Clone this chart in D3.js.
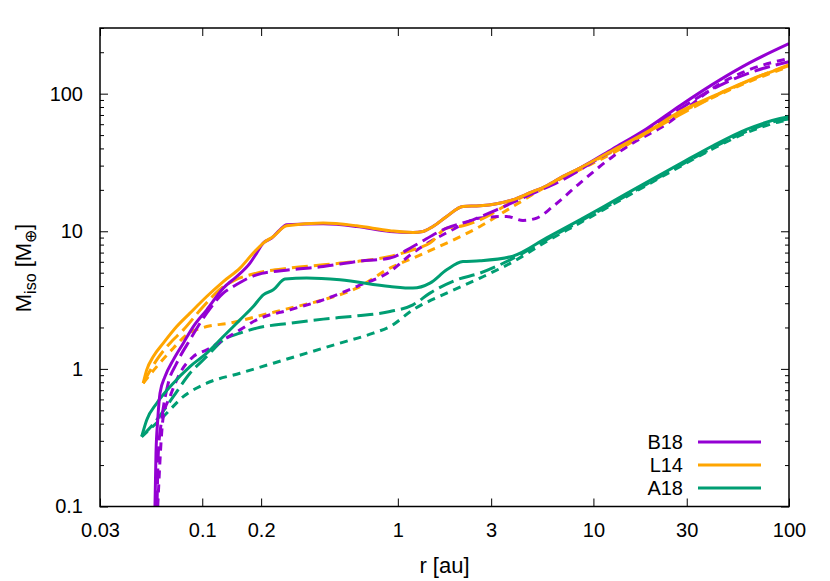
<!DOCTYPE html>
<html><head><meta charset="utf-8">
<script src="https://cdn.jsdelivr.net/npm/d3@7"></script>
<style>
body{margin:0;background:#fff}
svg{display:block}
text{font-family:"Liberation Sans",Arial,Helvetica,sans-serif;fill:#000}
</style>
</head><body>
<svg id="chart" width="830" height="581"></svg>
<script>
// ---- tick values ----
const xTickValues = [0.03, 0.1, 0.2, 1, 3, 10, 30, 100];
const xTickLabels = ["0.03", "0.1", "0.2", "1", "3", "10", "30", "100"];
const yTickValues = [0.1, 1, 10, 100];
const yTickLabels = ["0.1", "1", "10", "100"];

// ---- legend ----
const models = ["B18", "L14", "A18"];
const modelColors = ["#9400d3", "#ffa500", "#009e73"];

// ---- B18 ----
const b18SolidR = [0.0573,0.0580,0.0592,0.0608,0.0645,0.0711,0.0800,0.0900,0.1054,0.1281,0.1500,0.1754,0.1897,0.2051,0.2264,0.2496,0.2701,0.4156,0.6160,0.9113,1.195,1.344,1.512,1.777,2.152,2.630,3.200,3.878,4.737,5.766,6.986,8.533,12.58,18.71,27.69,44.36,63.12,100];
const b18SolidM = [0.1,0.2437,0.4257,0.666,0.879,1.163,1.538,2.031,2.687,3.863,4.69,5.87,6.944,8.209,8.927,10.25,11.15,11.34,10.84,9.966,9.802,9.966,10.84,12.81,15.15,15.32,15.85,16.95,19.05,21.43,25.03,28.82,39.81,55.66,81.8,126,168,231];
const b18DashR = [0.0587,0.0596,0.0620,0.0670,0.0740,0.0865,0.1054,0.1281,0.1441,0.1897,0.2808,0.4156,0.6160,0.9113,1.195,1.777,2.421,3.200,4.737,6.986,10.39,15.37,22.67,44.36,63.12,100];
const b18DashM = [0.1,0.2437,0.4257,0.787,1.10,1.625,2.542,3.553,3.968,4.826,5.248,5.546,6.03,6.386,7.755,10.55,12.12,14.33,18.44,23.7,33.11,46.3,64.71,115,142,170.9];
const b18DotR = [0.0592,0.0632,0.0684,0.0769,0.0900,0.1054,0.1281,0.1559,0.1897,0.2808,0.4156,0.6160,0.9113,1.195,1.777,2.630,3.600,4.362,5.126,6.211,8.533,12.58,15.92,22.67,44.36,63.12,100];
const b18DotM = [0.1,0.4498,0.6288,0.93,1.229,1.375,1.625,1.921,2.272,2.687,3.176,3.968,5.101,6.979,9.752,12.47,12.81,11.98,12.47,15.15,22.41,34.99,43.81,57.85,118,150,180];

// ---- L14 ----
const l14SolidR = [0.0499,0.0520,0.0562,0.0632,0.0740,0.0865,0.1054,0.1281,0.1559,0.1823,0.2051,0.2307,0.2701,0.4156,0.6160,0.9113,1.195,1.344,1.512,1.777,2.152,2.630,3.200,3.878,4.737,5.766,6.986,8.533,12.58,18.71,27.69,44.36,63.12,100];
const l14SolidM = [0.787,0.983,1.229,1.538,2.031,2.542,3.357,4.314,5.40,6.944,8.209,9.167,10.96,11.47,10.96,10.1,9.80,9.97,10.84,12.81,15.15,15.32,15.85,16.95,19.05,21.43,25.03,28.82,38.8,52.5,74.0,101,126,159.8];
const l14DashR = [0.0499,0.0585,0.0684,0.0800,0.1012,0.1281,0.1441,0.1897,0.2808,0.4156,0.6160,0.9113,1.195,1.459,1.777,2.152,2.630,3.878,5.766,8.533,12.58,18.71,27.69,44.36,63.12,100];
const l14DashM = [0.787,1.163,1.538,1.921,2.839,3.968,4.365,4.966,5.40,5.706,6.03,6.56,7.338,8.209,10.55,10.96,12.12,16.47,21.18,28.82,38.05,51.80,70.37,100,125,162.5];
const l14DotR = [0.0499,0.0585,0.0711,0.0833,0.1054,0.1386,0.1897,0.2808,0.4156,0.6160,0.9113,1.195,1.777,2.630,3.878,5.766,8.533,12.58,18.71,27.69,44.36,63.12,100];
const l14DotM = [0.787,1.039,1.414,1.768,2.031,2.15,2.401,2.764,3.176,3.863,5.40,6.386,8.209,10.84,15.15,21.18,28.01,37.04,51.80,72.39,99,123,157.1];

// ---- A18 ----
const a18SolidR = [0.0490,0.0520,0.0585,0.0711,0.0865,0.1054,0.1281,0.1559,0.1823,0.2051,0.2307,0.2648,0.3418,0.5058,0.9113,1.195,1.459,1.777,2.152,2.630,3.878,5.766,8.533,12.58,18.71,27.69,40.83,60.72,89.87,100];
const a18SolidM = [0.322,0.4257,0.563,0.787,1.039,1.301,1.718,2.272,2.839,3.454,3.754,4.492,4.567,4.439,3.968,3.863,4.201,5.248,6.03,6.101,6.6,8.95,12.1,16.5,22.7,30.9,41.8,55.0,66.0,68.0];
const a18DashR = [0.0490,0.0585,0.0711,0.0865,0.1054,0.1281,0.1559,0.1897,0.2808,0.4156,0.6160,0.9113,1.195,1.459,1.999,2.630,3.878,5.766,8.533,12.58,18.71,27.69,40.83,60.72,89.87,100];
const a18DashM = [0.322,0.4257,0.6288,0.930,1.229,1.625,1.818,1.977,2.149,2.299,2.429,2.611,2.921,3.553,4.439,4.966,6.35,8.7,11.8,16.0,22.0,30.0,40.5,53.2,64.0,65.5];
const a18DotR = [0.0490,0.0632,0.0800,0.1054,0.1559,0.2307,0.3418,0.5058,0.7485,0.9113,1.195,1.777,2.630,3.878,5.766,8.533,12.58,18.71,27.69,40.83,60.72,89.87,100];
const a18DotM = [0.322,0.4498,0.6288,0.787,0.93,1.10,1.301,1.538,1.818,2.031,2.687,3.553,4.567,6.0,8.45,11.5,15.7,21.6,29.5,39.8,52.0,62.5,64.0];

// ---- layout ----
const L = 100, R = 789, T = 28, B = 506.5;
const FONT = 20, TITLE_FONT = 22;
const dashLong = "16,6", dashShort = "8,6";

const svg = d3.select("#chart");
const x = d3.scaleLog().domain([0.03, 100]).range([L, R]);
const y = d3.scaleLog().domain([0.1, 300]).range([B, T]);

// minor y ticks
const yMinor = [];
for (const d of [0.1, 1, 10, 100]) for (let k = 2; k <= 9; k++) { const v = d * k; if (v <= 300) yMinor.push(v); }

svg.append("g").attr("transform", `translate(0,${B})`)
  .call(d3.axisBottom(x).tickValues(xTickValues).tickFormat((d, i) => xTickLabels[i]).tickSize(-8).tickPadding(16));
svg.append("g").attr("transform", `translate(0,${T})`)
  .call(d3.axisTop(x).tickValues(xTickValues).tickFormat("").tickSize(-8));
svg.append("g").attr("transform", `translate(${L},0)`)
  .call(d3.axisLeft(y).tickValues(yTickValues).tickFormat((d, i) => yTickLabels[i]).tickSize(-8).tickPadding(17));
svg.append("g").attr("transform", `translate(${L},0)`)
  .call(d3.axisLeft(y).tickValues(yMinor).tickFormat("").tickSize(-4));
svg.append("g").attr("transform", `translate(${R},0)`)
  .call(d3.axisRight(y).tickValues(yTickValues).tickFormat("").tickSize(-8));
svg.append("g").attr("transform", `translate(${R},0)`)
  .call(d3.axisRight(y).tickValues(yMinor).tickFormat("").tickSize(-4));

svg.selectAll(".domain").remove();
svg.selectAll(".tick line").attr("stroke", "#000").attr("stroke-width", 1);
svg.selectAll(".tick text").attr("font-size", FONT).attr("font-family", null).attr("fill", "#000");

svg.append("clipPath").attr("id", "plotclip").append("rect")
  .attr("x", L).attr("y", T).attr("width", R - L).attr("height", B - T);

const line = d3.line().x(d => x(d[0])).y(d => y(d[1])).curve(d3.curveMonotoneX);
const zip = (a, b) => a.map((v, i) => [v, b[i]]);

const series = [
  {r: a18DotR, m: a18DotM, c: 2, dash: dashShort},
  {r: a18DashR, m: a18DashM, c: 2, dash: dashLong},
  {r: l14DotR, m: l14DotM, c: 1, dash: dashShort},
  {r: b18DotR, m: b18DotM, c: 0, dash: dashShort},
  {r: l14DashR, m: l14DashM, c: 1, dash: dashLong},
  {r: b18DashR, m: b18DashM, c: 0, dash: dashLong},
  {r: a18SolidR, m: a18SolidM, c: 2, dash: null},
  {r: b18SolidR, m: b18SolidM, c: 0, dash: null},
  {r: l14SolidR, m: l14SolidM, c: 1, dash: null}
];

const plot = svg.append("g").attr("clip-path", "url(#plotclip)");
series.forEach(s => {
  plot.append("path").attr("d", line(zip(s.r, s.m)))
    .attr("fill", "none").attr("stroke", modelColors[s.c])
    .attr("stroke-width", 3).attr("stroke-linejoin", "round")
    .attr("stroke-dasharray", s.dash);
});

svg.append("rect").attr("x", L).attr("y", T).attr("width", R - L).attr("height", B - T)
  .attr("fill", "none").attr("stroke", "#000").attr("stroke-width", 1.5);

// legend
const leg = svg.append("g");
models.forEach((m, i) => {
  const yy = 442 + i * 23;
  leg.append("text").attr("x", 683).attr("y", yy).attr("dy", "0.35em")
    .attr("text-anchor", "end").attr("font-size", FONT).text(m);
  leg.append("line").attr("x1", 698).attr("x2", 761).attr("y1", yy).attr("y2", yy)
    .attr("stroke", modelColors[i]).attr("stroke-width", 3);
});

// axis titles
svg.append("text").attr("x", (L + R) / 2).attr("y", 573).attr("text-anchor", "middle")
  .attr("font-size", TITLE_FONT).text("r [au]");
const yl = svg.append("text").attr("transform", "translate(31,268) rotate(-90)")
  .attr("text-anchor", "middle").attr("font-size", TITLE_FONT);
yl.append("tspan").text("M");
yl.append("tspan").attr("font-size", 16).attr("dy", 5).text("iso");
yl.append("tspan").attr("dy", -5).text(" [M");
yl.append("tspan").attr("font-size", 16).attr("dy", 5).text("\u2295");
yl.append("tspan").attr("dy", -5).text("]");
</script>
</body></html>
